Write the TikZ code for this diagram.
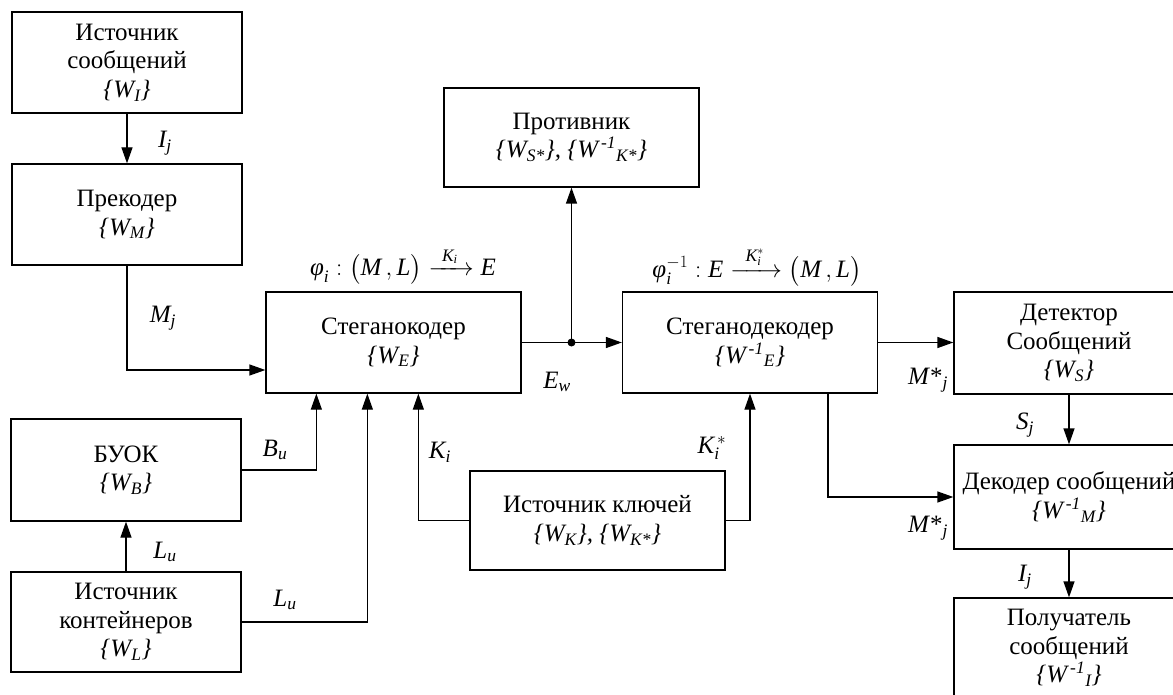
\documentclass[tikz,border=0pt]{standalone}
\usepackage{amsmath}
\usepackage{fontspec}
\setmainfont{Liberation Serif}
\usetikzlibrary{arrows.meta,calc}
\tikzset{
    blk/.style={rectangle, draw, line width=1.3pt, minimum width=230pt,
      minimum height=101pt, align=center, inner sep=0pt},
    wblk/.style={blk, minimum width=255pt},
    arr/.style={-{Triangle[length=16pt,width=11pt]}, line width=1.3pt},
}

\begin{document}
\begin{tikzpicture}[x=1pt, y=-1pt, font=\fontsize{25}{28.5}\selectfont]
 \path[use as bounding box, clip] (0,0) rectangle (1173,695);
 \node[blk] (src) at (127,62.5) {Источник\\сообщений\\\textit{\{W\textsubscript{I}\}}};
 \node[blk] (prec) at (127,214.5) {Прекодер\\\textit{\{W\textsubscript{M}\}}};
 \node[wblk] (enc) at (393.5,342.5) {Стеганокодер\\\textit{\{W\textsubscript{E}\}}};
 \node[wblk, minimum height=99pt] (adv) at (571.5,137.5)
    {Противник\\\textit{\{W\textsubscript{S*}\}, \{W\textsuperscript{\,-1}\textsubscript{K*}\}}};
 \node[wblk] (dec) at (750,342.5) {Стеганодекодер\\\textit{\{W\textsuperscript{\,-1}\textsubscript{E}\}}};
 \node[blk, minimum height=102pt] (det) at (1069,343) {Детектор\\Сообщений\\\textit{\{W\textsubscript{S}\}}};
 \node[blk, minimum height=104pt] (mdec) at (1069,497)
    {Декодер сообщений\\\textit{\{W\textsuperscript{\,-1}\textsubscript{M}\}}};
 \node[blk, minimum height=100pt] (rcv) at (1069,648)
    {Получатель\\сообщений\\\textit{\{W\textsuperscript{\,-1}\textsubscript{I}\}}};
 \node[blk, minimum height=102pt] (buok) at (126,470) {БУОК\\\textit{\{W\textsubscript{B}\}}};
 \node[blk, minimum height=100pt] (cont) at (126,622) {Источник\\контейнеров\\\textit{\{W\textsubscript{L}\}}};
 \node[wblk, minimum height=99pt] (keys) at (597.5,520.5)
    {Источник ключей\\\textit{\{W\textsubscript{K}\}, \{W\textsubscript{K*}\}}};

 \node (fenc) at (403,266) {$\textit{φ}_{\textit{i}}:\bigl(\textit{M}\,,\textit{L}\bigr)\xrightarrow{\hspace{8pt}\textit{K}_{\textit{i}}\hspace{8pt}}\textit{E}$};
 \node (fdec) at (757,266) {$\textit{φ}_{\textit{i}}^{-1}:\textit{E}\xrightarrow{\hspace{10pt}\textit{K}_{\textit{i}}^{*}\hspace{10pt}}\bigl(\textit{M}\,,\textit{L}\bigr)$};

 \coordinate (tap) at (adv.south |- enc.east);
 \coordinate (dout) at ($(dec.south)+(78,0)$);
 \draw[arr] (src) -- (prec);
 \draw[arr] (prec.south) |- ($(enc.west)+(0,27.5)$);
 \draw[arr] (enc.east) -- (dec.west);
 \draw[arr] (tap) -- (adv.south);
 \fill (tap) circle (4pt);
 \draw[arr] (dec.east) -- (dec.east -| det.west);
 \draw[arr] (dout) |- (mdec.west);
 \draw[arr] (det) -- (mdec);
 \draw[arr] (mdec) -- (rcv);
 \draw[arr] (cont) -- (buok);
 \draw[arr] (buok.east) -| ($(enc.south west)+(51,0)$);
 \draw[arr] (cont.east) -| ($(enc.south west)+(102,0)$);
 \draw[arr] (keys.west) -| ($(enc.south west)+(153,0)$);
 \draw[arr] (keys.east) -| (dec.south);

 \node (lI1) at (165,143) {\textit{I\textsubscript{j}}};
 \node (lM) at (163,318) {\textit{M\textsubscript{j}}};
 \node (lB) at (275,450) {\textit{B\textsubscript{u}}};
 \node (lL1) at (165,552) {\textit{L\textsubscript{u}}};
 \node (lL2) at (285,600) {\textit{L\textsubscript{u}}};
 \node (lK1) at (440,452) {\textit{K\textsubscript{i}}};
 \node (lK2) at (712,448) {$\textit{K}_{\textit{i}}^{\,*}$};
 \node (lE) at (557,382) {\textit{E\textsubscript{w}}};
 \node (lM1) at (928,380) {\textit{M}*\textsubscript{\textit{j}}};
 \node (lM2) at (928,528) {\textit{M}*\textsubscript{\textit{j}}};
 \node (lS) at (1025,425) {\textit{S\textsubscript{j}}};
 \node (lI2) at (1025,577) {\textit{I\textsubscript{j}}};
\end{tikzpicture}
\end{document}
